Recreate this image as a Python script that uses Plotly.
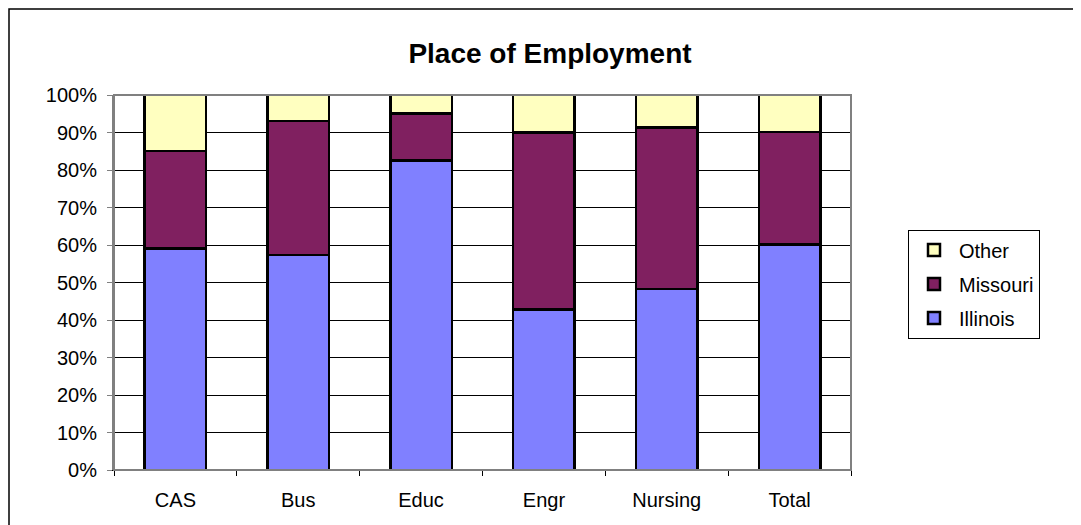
import plotly.graph_objects as go

categories = ["CAS", "Bus", "Educ", "Engr", "Nursing", "Total"]
illinois = [59.1, 57.4, 82.6, 42.8, 48.3, 60.2]
missouri = [26.0, 35.7, 12.5, 47.2, 43.0, 30.0]
other = [14.9, 6.9, 4.9, 10.0, 8.7, 9.8]
y_ticks = [0, 10, 20, 30, 40, 50, 60, 70, 80, 90, 100]
y_labels = [f"{v}%" for v in y_ticks]

font = "Liberation Sans, Arial, sans-serif"
line = dict(color="black", width=2.5)

# page body has an 8px margin; figure coordinates = page coordinates - 8
W, H = 1081, 525
L, T = 106, 87          # plot area left/top in figure coords
PR, PB = 843, 462       # plot area right/bottom in figure coords
PW, PH = PR - L, PB - T

fig = go.Figure()
fig.add_trace(go.Bar(name="Illinois", x=categories, y=illinois, legendgroup="i",
                     legendrank=3, marker=dict(color="#8080FF", line=line)))
fig.add_trace(go.Bar(name="Missouri", x=categories, y=missouri, legendgroup="m",
                     legendrank=2, marker=dict(color="#802060", line=line)))
fig.add_trace(go.Bar(name="Other", x=categories, y=other, legendgroup="o",
                     legendrank=1, marker=dict(color="#FFFFC0", line=line)))

fig.update_layout(
    width=W, height=H,
    barmode="stack", bargap=0.5,
    paper_bgcolor="white", plot_bgcolor="white",
    margin=dict(l=L, r=W - PR, t=T, b=H - PB),
    font=dict(family=font, size=20, color="black"),
    title=dict(text="<b>Place of Employment</b>", x=542 / W, xanchor="center",
               xref="container", y=1 - 45 / H, yanchor="middle",
               font=dict(size=28, family=font)),
    legend=dict(traceorder="grouped", x=(900 - L) / PW, xanchor="left",
                y=(PB - 276) / PH, yanchor="middle", bordercolor="black",
                borderwidth=1, font=dict(size=20, family=font), itemwidth=40,
                tracegroupgap=5),
    showlegend=True,
)
fig.update_yaxes(range=[0, 100], tickvals=y_ticks, ticktext=y_labels,
                 showgrid=True, gridcolor="black", gridwidth=1,
                 ticks="outside", ticklen=5, tickcolor="#808080",
                 showline=True, linecolor="#808080", linewidth=2,
                 zeroline=False, ticklabelstandoff=6)
fig.update_xaxes(ticks="outside", tickson="boundaries", ticklen=5,
                 tickcolor="black", showline=True, linecolor="black",
                 linewidth=1, showgrid=False, ticklabelstandoff=12)

fig.add_shape(type="rect", xref="paper", yref="paper", x0=0, x1=1, y0=0, y1=1,
              line=dict(color="#808080", width=2), layer="above")
fig.add_shape(type="rect", xref="paper", yref="paper",
              x0=-(L - 1) / PW, x1=1 + (W - PR + 20) / PW,
              y0=-(H - PB + 20) / PH, y1=1 + (T - 1) / PH,
              line=dict(color="black", width=1.5), layer="below")

fig.write_html("out.html")
